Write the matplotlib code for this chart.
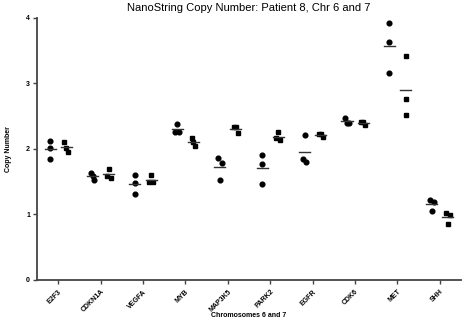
import numpy as np
import matplotlib
matplotlib.use('Agg')
import matplotlib.pyplot as plt

plt.rcParams['font.family'] = ['Liberation Sans', 'DejaVu Sans']

genes = ['E2F3', 'CDKN1A', 'VEGFA', 'MYB', 'MAP3K5', 'PARK2', 'EGFR', 'CDK6', 'MET', 'SHH']

# circles (first series per gene)
circ = [[2.12, 2.02, 1.85],
        [1.63, 1.59, 1.52],
        [1.60, 1.48, 1.32],
        [2.38, 2.26, 2.26],
        [1.86, 1.78, 1.52],
        [1.91, 1.77, 1.46],
        [2.21, 1.84, 1.80],
        [2.48, 2.39, 2.39],
        [3.93, 3.64, 3.16],
        [1.22, 1.19, 1.06]]

# squares (second series per gene)
sqr = [[2.10, 2.02, 1.96],
       [1.70, 1.59, 1.56],
       [1.60, 1.49, 1.49],
       [2.17, 2.10, 2.04],
       [2.34, 2.33, 2.25],
       [2.26, 2.16, 2.14],
       [2.23, 2.23, 2.18],
       [2.41, 2.41, 2.37],
       [3.42, 2.77, 2.52],
       [1.02, 0.99, 0.86]]


def swarm(vals, thr=0.09, step=0.075):
    # small horizontal spread for points that sit close together
    vals = np.asarray(vals)
    off = np.zeros(len(vals))
    for i in range(len(vals)):
        near = [j for j in range(len(vals)) if j != i and abs(vals[j] - vals[i]) < thr]
        if near:
            grp = sorted([i] + near)
            k = grp.index(i)
            off[i] = (k - (len(grp) - 1) / 2) * step * 2 / max(len(grp) - 1, 1) * 0.6
    return off


fig = plt.figure(figsize=(4.62, 3.20), dpi=100)
ax = fig.add_axes([0.080, 0.125, 0.918, 0.819])

shift = 0.19
hw = 0.13
for i in range(len(genes)):
    for vals, dx, mk in ((circ[i], -shift, 'o'), (sqr[i], shift, 's')):
        x = i + dx + swarm(vals)
        ax.plot(x, vals, mk, color='black', markersize=3.4 if mk == 'o' else 3.2,
                linestyle='none')
        m = np.mean(vals)
        ax.plot([i + dx - hw, i + dx + hw], [m, m], color='#333333', lw=1.0)

ax.set_xlim(-0.5, 9.5)
ax.set_ylim(0, 4)
ax.set_yticks([0, 1, 2, 3, 4])
ax.set_xticks(range(len(genes)))
ax.set_xticklabels(genes, rotation=45, ha='right', rotation_mode='anchor',
                   fontsize=5, fontweight='bold')
for lab in ax.get_yticklabels():
    lab.set_fontsize(5)
    lab.set_fontweight('bold')

for s in ['top', 'right']:
    ax.spines[s].set_visible(False)
for s in ['left', 'bottom']:
    ax.spines[s].set_color('#444444')
    ax.spines[s].set_linewidth(1.3)
ax.tick_params(axis='both', length=3, width=1.0, color='#444444', pad=2)
ax.tick_params(axis='x', pad=3)

ax.set_title('NanoString Copy Number: Patient 8, Chr 6 and 7', fontsize=8, pad=5)
ax.set_ylabel('Copy Number', fontsize=5, fontweight='bold', labelpad=10)
ax.set_xlabel('Chromosomes 6 and 7', fontsize=5, fontweight='bold')
ax.xaxis.set_label_coords(0.5, -0.123)

fig.savefig('out.png', dpi=100)
